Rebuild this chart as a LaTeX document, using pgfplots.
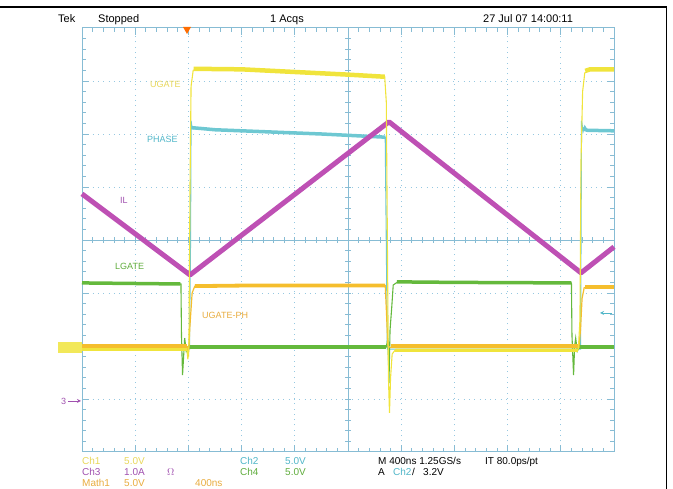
\documentclass[border=0pt]{standalone}
\usepackage{fontspec}
\setmainfont{Liberation Sans}
\usepackage{pgfplots}
\pgfplotsset{compat=1.18}
\definecolor{chy}{RGB}{240,228,60}
\definecolor{chc}{RGB}{110,200,210}
\definecolor{chm}{RGB}{190,80,180}
\definecolor{chg}{RGB}{100,185,60}
\definecolor{cho}{RGB}{245,190,45}
\definecolor{grat}{RGB}{135,188,212}
\definecolor{gdot}{RGB}{150,200,225}
\definecolor{txy}{RGB}{232,215,90}
\definecolor{txc}{RGB}{80,182,200}
\definecolor{txm}{RGB}{160,80,175}
\definecolor{txg}{RGB}{95,172,60}
\definecolor{txo}{RGB}{232,172,62}
\begin{document}
\begin{tikzpicture}[x=1pt,y=1pt]
\useasboundingbox (0,0) rectangle (673,489);
% frame
\draw[black, line width=1.4pt] (0,482) -- (666.5,482) -- (666.5,0);
% header
\begin{scope}[every node/.style={anchor=base west, inner sep=0pt, font=\fontsize{11}{11}\selectfont}]
\node at (58,466) {Tek};
\node at (98,466) {Stopped};
\node at (270,466) {1 Acqs};
\node at (483,466) {27 Jul 07 14:00:11};
\end{scope}
% graticule
\foreach \i in {1,...,9} \draw[gdot, line width=0.9pt, dash pattern=on 0.9pt off 4.42pt] ({82+53.2*\i},37) -- ({82+53.2*\i},461);
\foreach \j in {-3,...,3} \draw[gdot, line width=0.9pt, dash pattern=on 0.9pt off 4.4pt] (82,{249+53*\j}) -- (614,{249+53*\j});
\draw[grat, line width=0.9pt] (348,37) -- (348,461) (82,249) -- (614,249);
\foreach \k in {1,...,49} {
  \draw[grat, line width=0.7pt] ({82+10.64*\k},246) -- ({82+10.64*\k},252);
  \draw[grat, line width=0.7pt] ({82+10.64*\k},37) -- ({82+10.64*\k},41);
  \draw[grat, line width=0.7pt] ({82+10.64*\k},461) -- ({82+10.64*\k},457);
}
\foreach \k in {1,...,39} {
  \draw[grat, line width=0.7pt] (345,{37+10.6*\k}) -- (351,{37+10.6*\k});
  \draw[grat, line width=0.7pt] (82,{37+10.6*\k}) -- (86,{37+10.6*\k});
  \draw[grat, line width=0.7pt] (614,{37+10.6*\k}) -- (610,{37+10.6*\k});
}
\foreach \k in {1,...,9} {
  \draw[grat, line width=0.8pt] ({82+53.2*\k},37) -- ({82+53.2*\k},44);
  \draw[grat, line width=0.8pt] ({82+53.2*\k},461) -- ({82+53.2*\k},454);
}
\foreach \k in {1,...,7} {
  \draw[grat, line width=0.8pt] (82,{37+53*\k}) -- (89,{37+53*\k});
  \draw[grat, line width=0.8pt] (614,{37+53*\k}) -- (607,{37+53*\k});
}
\draw[grat, line width=1pt] (82,37) rectangle (614,461);
% markers
\fill[chy, opacity=0.85] (58,136) rectangle (82,147);
\node[txm, anchor=west, inner sep=0pt, font=\fontsize{9}{9}\selectfont] at (61,88) {3};
\draw[txm, line width=0.8pt, -stealth] (68,88) -- (81,88);
\draw[txc, line width=0.8pt, -stealth] (612,176) -- (600,176);
\fill[orange!85!red] (183,462) -- (191,462) -- (187,455) -- cycle;
% traces
\begin{axis}[at={(82pt,37pt)}, anchor=south west, width=532pt, height=424pt,
  scale only axis, xmin=0, xmax=10, ymin=-4, ymax=4, axis lines=none, clip=false]
% PHASE (ch2)
\addplot[chc, line width=1.1pt] coordinates {(0,-2.06) (2.02,-2.06) (2.04,0) (2.05,2.25) (2.07,2.1) (2.5,2.08) (3.5,2.04) (4.5,2.0) (5.70,1.94) (5.72,0) (5.74,-2.06) (9.37,-2.06) (9.38,0) (9.39,2.25) (9.42,2.05) (9.45,2.15) (9.5,2.07) (10,2.06)};
\addplot[chc, line width=3.5pt] coordinates {(2.06,2.12) (2.5,2.08) (3.5,2.04) (4.5,2.0) (5.70,1.94)};
\addplot[chc, line width=3.5pt] coordinates {(9.4,2.1) (9.5,2.07) (10,2.06)};
% IL (ch3)
\addplot[chm, line width=5pt, line join=round] coordinates {(0,0.87) (2.03,-0.66) (5.77,2.23) (9.38,-0.62) (10,-0.13)};
% LGATE (ch4)
\addplot[chg, line width=1.1pt] coordinates {(0,-0.81) (1.86,-0.83) (1.87,-1.8) (1.89,-2.55) (1.91,-2.2) (1.93,-1.85) (1.96,-2.1) (2.0,-2.02) (5.72,-2.02) (5.75,-1.85) (5.77,-2.7) (5.79,-1.7) (5.82,-1.3) (5.85,-0.85) (5.95,-0.78) (7,-0.8) (9.20,-0.81) (9.21,-1.8) (9.24,-2.55) (9.26,-2.0) (9.28,-1.85) (9.31,-2.1) (9.35,-2.02) (10,-2.02)};
\addplot[chg, line width=3.5pt] coordinates {(0,-0.81) (1.85,-0.83)};
\addplot[chg, line width=3.5pt] coordinates {(2.0,-2.02) (5.72,-2.02)};
\addplot[chg, line width=3.5pt] coordinates {(5.92,-0.79) (7,-0.8) (9.2,-0.81)};
\addplot[chg, line width=3.5pt] coordinates {(9.35,-2.02) (10,-2.02)};
% UGATE-PH (math)
\addplot[cho, line width=1.2pt] coordinates {(0,-2.01) (1.98,-2.01) (2.0,-2.2) (2.03,-1.6) (2.07,-1.0) (2.12,-0.87) (3,-0.86) (5.70,-0.86) (5.72,-1.3) (5.75,-2.0) (5.8,-2.03) (9.34,-2.03) (9.37,-1.7) (9.40,-1.1) (9.44,-0.9) (9.52,-0.88) (10,-0.88)};
\addplot[cho, line width=3.8pt] coordinates {(0,-2.0) (1.98,-2.0)};
\addplot[cho, line width=3.8pt] coordinates {(2.12,-0.87) (3,-0.86) (5.70,-0.86)};
\addplot[cho, line width=3.8pt] coordinates {(5.8,-2.0) (9.34,-2.0)};
\addplot[cho, line width=3.8pt] coordinates {(9.46,-0.88) (10,-0.88)};
% UGATE (ch1)
\addplot[chy, line width=1.1pt] coordinates {(0,-2.05) (1.97,-2.05) (1.99,-2.25) (2.01,-2.0) (2.03,1.0) (2.05,2.9) (2.09,3.2) (2.2,3.25) (3.0,3.22) (4.0,3.17) (5.0,3.12) (5.69,3.08) (5.72,2.6) (5.74,0) (5.76,-2.6) (5.78,-3.26) (5.80,-2.6) (5.83,-2.15) (5.9,-2.06) (9.33,-2.06) (9.36,-1.5) (9.38,1.5) (9.41,2.8) (9.45,3.15) (9.55,3.22) (10,3.22)};
\addplot[chy, line width=3pt] coordinates {(0,-2.07) (1.97,-2.07)};
\addplot[chy, line width=4.5pt] coordinates {(2.1,3.23) (3.0,3.22) (4.0,3.17) (5.0,3.12) (5.69,3.08)};
\addplot[chy, line width=3pt] coordinates {(5.88,-2.08) (9.33,-2.08)};
\addplot[chy, line width=4.5pt] coordinates {(9.46,3.19) (9.55,3.22) (10,3.22)};
\end{axis}
% trace labels
\begin{scope}[every node/.style={anchor=west, inner sep=0pt, font=\fontsize{9}{9}\selectfont}]
\node[txy] at (150,405) {UGATE};
\node[txc] at (147,350) {PHASE};
\node[txm] at (120,289) {IL};
\node[txg] at (115,223) {LGATE};
\node[txo] at (202,174) {UGATE-PH};
\end{scope}
% footer
\begin{scope}[every node/.style={anchor=base west, inner sep=0pt, font=\fontsize{10}{10}\selectfont}]
\node[txy] at (82,24) {Ch1};
\node[txy] at (124,24) {5.0V};
\node[txc] at (240,24) {Ch2};
\node[txc] at (285,24) {5.0V};
\node at (378,24) {M 400ns 1.25GS/s};
\node at (485,24) {IT 80.0ps/pt};
\node[txm] at (82,13) {Ch3};
\node[txm] at (124,13) {1.0A};
\node[txm] at (167,13) {$\Omega$};
\node[txg] at (240,13) {Ch4};
\node[txg] at (285,13) {5.0V};
\node at (378,13) {A};
\node[txc] at (393,13) {Ch2};
\node at (412,13) {/};
\node at (423,13) {3.2V};
\node[txo] at (82,2.5) {Math1};
\node[txo] at (124,2.5) {5.0V};
\node[txo] at (195,2.5) {400ns};
\end{scope}
\end{tikzpicture}
\end{document}
